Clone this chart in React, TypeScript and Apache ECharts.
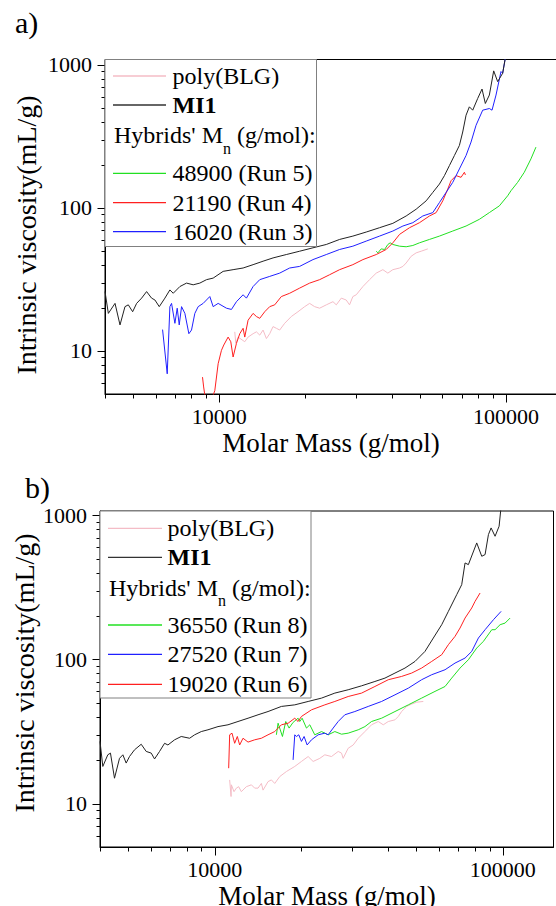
import React, { useEffect, useRef } from "react";
import * as echarts from "echarts";

const FONT = "Liberation Serif";

// ---------- axis ranges & tick values ----------
const X_MIN = 4000;
const X_MAX = 150000;
const Y_MIN = 5;
const Y_MAX_A = 1090;
const Y_MAX_B = 1070;
const X_MAJOR = [10000, 100000];
const X_MINOR = [4000, 5000, 6000, 7000, 8000, 9000, 20000, 30000, 40000, 50000, 60000, 70000, 80000, 90000];
const Y_MAJOR = [10, 100, 1000];
const Y_MINOR = [6, 7, 8, 9, 20, 30, 40, 50, 60, 70, 80, 90, 200, 300, 400, 500, 600, 700, 800, 900];

// ---------- panel a) data: [molar mass (g/mol), intrinsic viscosity (mL/g)] ----------
const polyBLG_A: number[][] = [
  [11337, 13.6], [11430, 11.3], [11644, 12.5], [12283, 11.6], [12614, 12.5], [13131, 13.2], [13487, 13.6],
  [13852, 12.9], [14227, 14.0], [14612, 12.2], [15007, 13.2], [15414, 14.8], [15828, 14.4], [16256, 14.0],
  [16919, 15.6], [17847, 17.4], [18830, 18.8], [19866, 20.4], [20676, 21.5], [21520, 20.4], [22404, 19.9],
  [23633, 21.0], [24936, 22.1], [25612, 21.0], [26657, 23.4], [27733, 22.7], [28483, 21.0], [29253, 24.0],
  [30061, 24.7], [31710, 28.2], [33449, 31.5], [35285, 35.0], [37220, 37.0], [38740, 35.0], [40325, 37.0],
  [42560, 38.0], [43710, 39.0], [44875, 41.2], [46710, 45.9], [48620, 48.5], [50610, 49.8], [53390, 51.7],
];
const MI1_A: number[][] = [
  [4000, 26.0], [4109, 18.3], [4335, 21.5], [4512, 15.2], [4696, 20.4], [4823, 21.0], [4994, 18.8],
  [5156, 21.5], [5367, 23.4], [5586, 26.0], [5814, 23.4], [5972, 22.7], [6183, 20.4], [6470, 23.4],
  [6734, 26.7], [6917, 25.3], [7297, 28.2], [7697, 29.8], [8118, 29.0], [8563, 29.8], [9035, 31.5],
  [9530, 32.3], [10325, 36.0], [11186, 37.0], [12120, 38.0], [13131, 40.1], [14227, 42.4], [15414, 44.7],
  [17146, 47.2], [19083, 49.8], [21235, 52.6], [23633, 55.5], [26303, 60.2], [29253, 63.5], [32567, 67.8],
  [36240, 72.7], [40325, 78.0], [44875, 87.8], [48620, 97.9], [52680, 112.0], [55570, 128.3], [58610, 146.8],
  [61010, 168.1], [63500, 197.6], [66100, 232.4], [68800, 273.3], [70650, 339.3], [72570, 444.6],
  [74530, 508.8], [76560, 482.1], [79690, 582.5], [82500, 677.6], [84720, 537.0], [87500, 614.8],
  [90600, 907.6], [93550, 763.2], [97360, 873.9], [99470, 1114],
];
const run5_A: number[][] = [
  [35285, 49.8], [35760, 48.5], [36728, 51.7], [37720, 51.2], [38740, 55.5], [39470, 57.0], [40325, 55.5],
  [42560, 54.0], [44875, 53.5], [47340, 54.6], [49940, 57.0], [54110, 60.2], [58610, 63.5], [65220, 68.9],
  [72570, 74.7], [80760, 83.2], [87500, 92.7], [94800, 103.3], [101340, 121.5], [104090, 131.8],
  [109790, 150.8], [115830, 177.4], [122180, 220.1], [127180, 266.0],
];
const run4_A_start: number[][] = [[8750, 6.56], [8830, 5.6], [8915, 4.9]];
const run4_A: number[][] = [
  [9530, 4.9], [9658, 5.28], [9920, 8.14], [10188, 10.1], [10380, 11.0], [10747, 12.5], [10980, 11.6],
  [11186, 9.07], [11489, 11.3], [11801, 13.2], [12120, 14.4], [12283, 12.5], [12614, 16.4], [13131, 18.3],
  [13487, 17.4], [13852, 16.9], [14418, 18.8], [15007, 20.4], [15620, 21.0], [16474, 24.0], [17611, 25.3],
  [19083, 27.5], [20676, 29.8], [22404, 31.5], [24273, 34.1], [26303, 37.0], [29253, 40.1], [31710, 43.5],
  [35285, 47.2], [38226, 51.2], [40325, 57.0], [42560, 65.3], [46100, 72.7], [49940, 78.8], [54110, 87.8],
  [57080, 92.7], [60200, 112.0], [62660, 135.4], [64350, 154.9], [66990, 168.1], [69720, 163.6],
  [71610, 177.4], [72190, 170.0],
];
const run3_A: number[][] = [
  [6350, 14.1], [6592, 6.92], [6734, 20.4], [6825, 21.5], [7010, 15.6], [7142, 19.9], [7258, 15.2],
  [7395, 20.4], [7595, 18.3], [7842, 13.2], [8010, 14.0], [8227, 18.3], [8450, 20.4], [8797, 21.5],
  [9279, 24.0], [9530, 20.4], [9920, 21.5], [10605, 19.9], [11038, 19.5], [11489, 22.1], [12120, 24.7],
  [12448, 23.4], [13131, 28.2], [13852, 31.5], [15007, 33.2], [16256, 35.0], [17611, 38.0], [19083, 39.0],
  [21235, 43.5], [23633, 47.2], [26303, 51.2], [29253, 54.0], [32567, 58.6], [36240, 63.5], [40325, 68.9],
  [43710, 74.7], [47340, 78.8], [51290, 87.8], [55570, 92.7], [58610, 109.0], [61830, 128.3], [65220, 150.8],
  [68800, 187.2], [72570, 232.4], [75540, 288.5], [78630, 378.0], [82940, 482.1], [87500, 495.3],
  [89390, 482.1], [92300, 614.8], [96070, 897.9], [97360, 873.9], [99470, 1114],
];

// ---------- panel b) data ----------
const polyBLG_B: number[][] = [
  [11275, 14.6], [11400, 11.2], [11430, 13.5], [11673, 12.1], [11892, 12.8], [12116, 13.1], [12378, 12.1],
  [12881, 13.1], [13411, 13.5], [13772, 12.8], [14145, 12.8], [14528, 13.8], [14723, 12.4], [15320, 14.2],
  [15739, 14.6], [16163, 13.8], [16826, 15.4], [17750, 16.7], [18970, 18.1], [20010, 19.6], [21110, 21.2],
  [21970, 19.6], [23170, 20.6], [24120, 21.8], [25440, 21.2], [26840, 23.0], [27560, 22.4], [27930, 20.6],
  [29070, 24.2], [30260, 25.5], [31500, 28.4], [33230, 31.6], [35040, 35.2], [36960, 37.1], [38480, 35.2],
  [40050, 37.1], [42250, 38.1], [43390, 40.2], [44560, 43.5], [46390, 47.2], [48280, 49.0], [50240, 50.5],
  [52990, 51.1],
];
const MI1_B: number[][] = [
  [4000, 27.0], [4091, 18.1], [4257, 21.8], [4349, 22.4], [4491, 15.0], [4675, 20.6], [4802, 21.8],
  [4931, 19.1], [5063, 21.2], [5270, 23.6], [5560, 25.8], [5787, 23.0], [6024, 22.4], [6186, 20.4],
  [6438, 23.0], [6702, 26.2], [6883, 25.5], [7261, 27.7], [7657, 29.2], [8186, 28.4], [8521, 30.0],
  [8987, 31.6], [9480, 32.5], [10271, 34.2], [11125, 35.2], [12051, 37.1], [13058, 39.1], [14145, 41.3],
  [15320, 43.5], [17050, 47.2], [18970, 48.4], [21110, 51.1], [23490, 53.9], [26130, 58.4], [29070, 61.6],
  [32360, 65.6], [35990, 70.3], [39000, 74.2], [42250, 80.4], [45770, 87.1], [49580, 96.8], [53700, 113.6],
  [57410, 140.7], [61390, 174.1], [64740, 215.4], [69200, 281.2], [72030, 330.0], [73980, 466.7],
  [75970, 454.4], [81210, 642.6], [84530, 519.3], [86810, 533.3], [89180, 734.1], [91100, 816.6],
  [94040, 714.9], [97110, 838.6], [98680, 1150],
];
const run8_B: number[][] = [
  [16380, 30.0], [16600, 36.1], [17190, 29.2], [17650, 37.1], [18130, 33.4], [18720, 36.6], [19480, 39.1],
  [19740, 37.1], [20120, 39.1], [20830, 33.4], [21390, 35.2], [22260, 30.0], [23490, 31.6], [24770, 30.0],
  [26130, 31.6], [27560, 30.3], [29070, 30.8], [31500, 32.5], [33230, 34.2], [35040, 37.1], [37970, 39.1],
  [42250, 43.5], [47010, 48.4], [52290, 53.9], [58180, 60.0], [63040, 64.9], [66490, 74.2], [71070, 87.1],
  [75970, 99.5], [81210, 119.9], [85660, 133.4], [91600, 160.7], [94040, 160.7], [97890, 174.1],
  [101880, 178.7], [106040, 193.6],
];
const run7_B: number[][] = [
  [18720, 20.1], [18970, 30.0], [19220, 29.2], [19590, 30.0], [20010, 27.0], [20440, 29.2], [20940, 25.5],
  [21680, 27.7], [22870, 30.0], [24120, 30.8], [24770, 30.0], [25780, 33.4], [26840, 37.1], [28300, 41.3],
  [30660, 43.5], [34120, 47.2], [37970, 51.1], [42250, 56.8], [47010, 63.2], [52290, 72.3], [56650, 78.3],
  [63040, 84.8], [68280, 94.3], [73980, 102.2], [78020, 113.6], [82300, 140.7], [86810, 160.7],
  [92830, 188.6], [98680, 215.4],
];
const run6_B: number[][] = [
  [11186, 17.6], [11275, 30.0], [11489, 30.8], [11735, 26.2], [11988, 29.2], [12213, 25.5], [12544, 28.4],
  [13058, 26.7], [13772, 27.7], [14528, 28.4], [15320, 30.0], [16163, 31.6], [17050, 35.2], [17990, 36.1],
  [18970, 39.1], [19480, 37.1], [20010, 40.2], [21680, 44.7], [24120, 48.4], [26130, 51.1], [29070, 55.3],
  [32360, 58.4], [35990, 64.9], [40050, 72.3], [44560, 76.2], [48280, 80.4], [52290, 87.1], [56650, 96.8],
  [61390, 107.8], [64740, 126.5], [68280, 144.5], [71070, 165.1], [73980, 193.6], [78020, 227.2],
  [80130, 252.7], [83410, 288.8],
];

// ---------- legend texts ----------
const LEGEND_A = ["48900 (Run 5)", "21190 (Run 4)", "16020 (Run 3)"];
const LEGEND_B = ["36550 (Run 8)", "27520 (Run 7)", "19020 (Run 6)"];

const C_PINK = "#f4bcc6";
const C_BLACK = "#222222";
const C_GREEN = "#22e022";
const C_RED = "#ff2020";
const C_BLUE = "#2020ff";

// Liberation Serif advance widths (em) used to place the subscript
const W_HYBRIDS_M_EM = 4.541;
const W_N_EM = 0.5;

const logLabel = (v: number) => {
  const l = Math.log10(v);
  return Math.abs(l - Math.round(l)) < 1e-6 ? String(Math.round(v)) : "";
};

function axisPair(idx: number, yMax: number) {
  const common = {
    gridIndex: idx,
    type: "log" as const,
    logBase: 10,
    axisLine: { show: true, lineStyle: { color: "#000", width: 1 } },
    axisTick: { show: false },
    minorTick: { show: false },
    splitLine: { show: false },
    minorSplitLine: { show: false },
  };
  return {
    x: {
      ...common,
      min: X_MIN,
      max: X_MAX,
      axisLabel: { formatter: logLabel, fontFamily: FONT, fontSize: 22, color: "#000", margin: 11, hideOverlap: false },
    },
    y: {
      ...common,
      min: Y_MIN,
      max: yMax,
      axisLabel: { formatter: logLabel, fontFamily: FONT, fontSize: 22, color: "#000", margin: 13, hideOverlap: false },
    },
  };
}

function tickSeries(idx: number) {
  const data: number[][] = [
    ...X_MAJOR.map((v) => [v, Y_MIN, 8, 1]),
    ...X_MINOR.map((v) => [v, Y_MIN, 4, 1]),
    ...Y_MAJOR.map((v) => [X_MIN, v, 8, 0]),
    ...Y_MINOR.map((v) => [X_MIN, v, 4, 0]),
  ];
  return {
    type: "custom",
    xAxisIndex: idx,
    yAxisIndex: idx,
    silent: true,
    clip: false,
    z: 6,
    data,
    renderItem: (params: any, api: any) => {
      const p = api.coord([api.value(0), api.value(1)]);
      const len = api.value(2);
      const isX = api.value(3) === 1;
      const x = Math.round(p[0]) + 0.5;
      const y = Math.round(p[1]) + 0.5;
      const shape = isX ? { x1: x, y1: y, x2: x, y2: y + len } : { x1: x, y1: y, x2: x - len, y2: y };
      return { type: "line", shape, style: { stroke: "#000", lineWidth: 1 } };
    },
  };
}

function lineSeries(idx: number, data: number[][], color: string, z = 3) {
  return {
    type: "line",
    xAxisIndex: idx,
    yAxisIndex: idx,
    data,
    showSymbol: false,
    symbol: "none",
    clip: true,
    silent: true,
    z,
    lineStyle: { color, width: 1 },
    itemStyle: { color },
  };
}

function txt(x: number, y: number, text: string, size: number, align = "left", bold = false, rotation = 0) {
  const style: any = {
    text,
    fontFamily: FONT,
    fontSize: size,
    fill: "#000",
    align,
    verticalAlign: "middle",
  };
  if (bold) style.fontWeight = "bold";
  return { type: "text", z: 101, x, y, rotation, style };
}

function legendGraphics(
  box: { x: number; y: number; w: number; h: number },
  lineX1: number,
  lineX2: number,
  textX: number,
  hybX: number,
  rows: number[],
  runs: string[],
  runColors: string[]
) {
  const els: any[] = [];
  const fs = 24;
  els.push({
    type: "rect",
    z: 100,
    shape: { x: box.x, y: box.y, width: box.w, height: box.h },
    style: { fill: "#fff", stroke: "#808080", lineWidth: 1 },
  });
  const entry = (y: number, color: string, text: string, bold = false) => {
    els.push({
      type: "line",
      z: 101,
      shape: { x1: lineX1, y1: y, x2: lineX2, y2: y },
      style: { stroke: color, lineWidth: 1.3 },
    });
    els.push(txt(textX, y, text, fs, "left", bold));
  };
  entry(rows[0], C_PINK, "poly(BLG)");
  entry(rows[1], "#333", "MI1", true);
  const subFs = 16;
  const w1 = W_HYBRIDS_M_EM * fs;
  const wn = W_N_EM * subFs;
  els.push(txt(hybX, rows[2], "Hybrids' M", fs));
  els.push(txt(hybX + w1, rows[2] + 13, "n", subFs));
  els.push(txt(hybX + w1 + wn, rows[2], " (g/mol):", fs));
  entry(rows[3], runColors[0], runs[0]);
  entry(rows[4], runColors[1], runs[1]);
  entry(rows[5], runColors[2], runs[2]);
  return els;
}

const FORCE_FONT_CSS =
  "#chart-root svg text, #chart-root svg tspan { font-family: 'Liberation Serif', 'Times New Roman', serif !important; }";

export default function App() {
  const ref = useRef<HTMLDivElement>(null);

  useEffect(() => {
    if (!ref.current) return;
    const chart = echarts.init(ref.current, undefined, { renderer: "svg", width: 556, height: 906 });
    const axA = axisPair(0, Y_MAX_A);
    const axB = axisPair(1, Y_MAX_B);

    const option: any = {
      animation: false,
      backgroundColor: "#fff",
      grid: [
        { left: 105, top: 59.5, width: 451.5, height: 334.5, show: true, borderColor: "#000", borderWidth: 1, backgroundColor: "transparent", containLabel: false, outerBoundsMode: "none" },
        { left: 100, top: 511, width: 453.5, height: 336, show: true, borderColor: "#000", borderWidth: 1, backgroundColor: "transparent", containLabel: false, outerBoundsMode: "none" },
      ],
      xAxis: [axA.x, axB.x],
      yAxis: [axA.y, axB.y],
      series: [
        lineSeries(0, polyBLG_A, C_PINK, 2),
        lineSeries(0, run5_A, C_GREEN),
        lineSeries(0, run4_A_start, C_RED),
        lineSeries(0, run4_A, C_RED),
        lineSeries(0, run3_A, C_BLUE),
        lineSeries(0, MI1_A, C_BLACK, 4),
        tickSeries(0),
        lineSeries(1, polyBLG_B, C_PINK, 2),
        lineSeries(1, run8_B, C_GREEN),
        lineSeries(1, run7_B, C_BLUE),
        lineSeries(1, run6_B, C_RED),
        lineSeries(1, MI1_B, C_BLACK, 4),
        tickSeries(1),
      ],
      graphic: [
        txt(15, 22, "a)", 30),
        txt(25, 487, "b)", 30),
        txt(26, 235, "Intrinsic viscosity(mL/g)", 28, "center", false, Math.PI / 2),
        txt(24, 673, "Intrinsic viscosity(mL/g)", 28, "center", false, Math.PI / 2),
        txt(331, 443, "Molar Mass (g/mol)", 27, "center"),
        txt(327, 896, "Molar Mass (g/mol)", 27, "center"),
        ...legendGraphics(
          { x: 105, y: 59.5, w: 211.5, h: 187 },
          113, 166, 172.5, 114,
          [76, 105, 135, 173.3, 202.7, 231.7],
          LEGEND_A,
          [C_GREEN, C_RED, C_BLUE]
        ),
        ...legendGraphics(
          { x: 100, y: 511, w: 211, h: 187 },
          108, 162, 167.5, 109,
          [528.3, 557.3, 587.7, 625, 654.3, 684.3],
          LEGEND_B,
          [C_GREEN, C_BLUE, C_RED]
        ),
      ],
    };
    chart.setOption(option);
    return () => chart.dispose();
  }, []);

  return (
    <div id="chart-root" style={{ position: "absolute", left: 0, top: 0, fontFamily: "Liberation Serif" }}>
      <style>{FORCE_FONT_CSS}</style>
      <div ref={ref} style={{ width: 556, height: 906 }} />
    </div>
  );
}
